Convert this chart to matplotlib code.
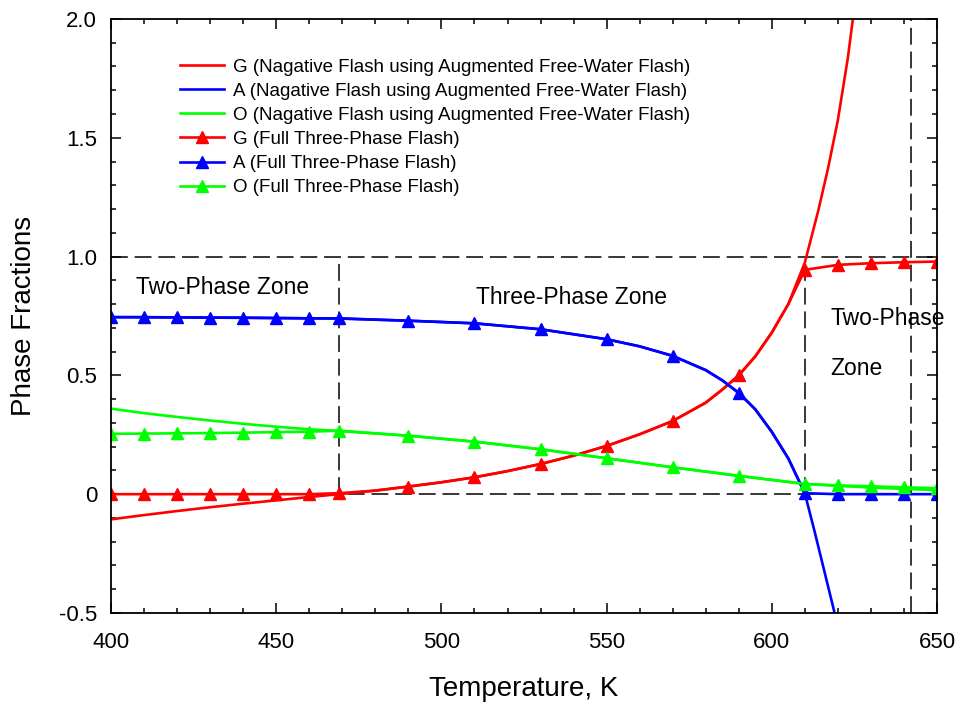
import numpy as np
import matplotlib
matplotlib.use("Agg")
import matplotlib.pyplot as plt
from matplotlib.ticker import MultipleLocator, FuncFormatter

plt.rcParams['font.family'] = ['Liberation Sans', 'DejaVu Sans']

# negative flash using augmented free-water flash (T in K)
t_neg_g = [400, 410, 420, 430, 440, 450, 460, 469, 480, 490, 500, 510, 520, 530, 540,
           550, 560, 570, 580, 585, 590, 595, 600, 605, 610, 614, 617, 620, 623, 625]
g_neg = [-0.106, -0.088, -0.071, -0.055, -0.040, -0.026, -0.012, 0.000, 0.015, 0.032,
         0.050, 0.071, 0.097, 0.127, 0.162, 0.203, 0.252, 0.308, 0.385, 0.440,
         0.500, 0.580, 0.680, 0.800, 0.975, 1.190, 1.370, 1.575, 1.835, 2.050]

t_neg_a = [400, 420, 440, 460, 469, 490, 510, 530, 550, 560, 570, 580, 585, 590, 595,
           600, 605, 610, 613, 616, 619, 621]
a_neg = [0.745, 0.744, 0.743, 0.740, 0.739, 0.730, 0.719, 0.694, 0.652, 0.622, 0.582,
         0.522, 0.479, 0.427, 0.357, 0.262, 0.150, 0.003, -0.160, -0.330, -0.500, -0.620]

t_neg_o = [400, 410, 420, 430, 440, 450, 460, 469, 490, 510, 530, 550, 570, 590, 610,
           620, 630, 640, 650]
o_neg = [0.360, 0.341, 0.325, 0.310, 0.296, 0.284, 0.273, 0.266, 0.246, 0.221, 0.189,
         0.151, 0.113, 0.077, 0.043, 0.035, 0.028, 0.022, 0.017]

# full three-phase flash
t_full = [400, 410, 420, 430, 440, 450, 460, 469, 490, 510, 530, 550, 570, 590, 610,
          620, 630, 640, 650]
g_full = [0, 0, 0, 0, 0, 0, 0, 0.004, 0.032, 0.071, 0.127, 0.203, 0.308, 0.500, 0.944,
          0.965, 0.972, 0.976, 0.979]
a_full = [0.745, 0.745, 0.744, 0.743, 0.742, 0.741, 0.740, 0.740, 0.730, 0.719, 0.694,
          0.652, 0.582, 0.425, 0.004, 0.0, 0.0, 0.0, 0.0]
o_full = [0.254, 0.255, 0.256, 0.257, 0.259, 0.261, 0.263, 0.267, 0.246, 0.221, 0.189,
          0.151, 0.113, 0.077, 0.043, 0.037, 0.033, 0.029, 0.025]

# phase boundaries
t_lower = 469
t_upper = 610
t_crit = 642


def full_curve(t_f, v_f, t_n, v_n):
    # inside the three-phase zone both methods agree, so the smooth
    # negative-flash points fill the line between the markers
    t_f, v_f = np.asarray(t_f, float), np.asarray(v_f, float)
    t_n, v_n = np.asarray(t_n, float), np.asarray(v_n, float)
    keep = (t_n > t_lower) & (t_n < t_upper) & ~np.isin(t_n, t_f)
    t = np.concatenate([t_f, t_n[keep]])
    v = np.concatenate([v_f, v_n[keep]])
    order = np.argsort(t)
    t, v = t[order], v[order]
    return t, v, np.isin(t, t_f)


fig = plt.figure(figsize=(9.58, 7.04), dpi=100)
ax = fig.add_axes([0.1159, 0.1293, 0.8622, 0.8438])

lw = 1.9
ax.plot(t_neg_g, g_neg, color='red', lw=lw,
        label='G (Nagative Flash using Augmented Free-Water Flash)')
ax.plot(t_neg_a, a_neg, color='blue', lw=lw,
        label='A (Nagative Flash using Augmented Free-Water Flash)')
ax.plot(t_neg_o, o_neg, color='#00ff00', lw=lw,
        label='O (Nagative Flash using Augmented Free-Water Flash)')

for vals, neg_t, neg_v, color, name in [
        (g_full, t_neg_g, g_neg, 'red', 'G'),
        (a_full, t_neg_a, a_neg, 'blue', 'A'),
        (o_full, t_neg_o, o_neg, '#00ff00', 'O')]:
    t, v, marks = full_curve(t_full, vals, neg_t, neg_v)
    ax.plot(t, v, color=color, lw=lw, marker='^', markersize=9,
            markevery=list(marks), label=f'{name} (Full Three-Phase Flash)')

# zone boundaries
dash = dict(color='black', lw=1.1, linestyle=(0, (11, 4.5)), zorder=1)
ax.axhline(1.0, **dash)
ax.axhline(0.0, **dash)
ax.plot([t_lower, t_lower], [0, 1], **dash)
ax.plot([t_upper, t_upper], [0, 1], **dash)
ax.axvline(t_crit, **dash)

zone_fs = 16.5
ax.text(407.6, 0.843, 'Two-Phase Zone', fontsize=zone_fs, va='baseline')
ax.text(510.5, 0.80, 'Three-Phase Zone', fontsize=zone_fs, va='baseline')
ax.text(617.8, 0.712, 'Two-Phase', fontsize=zone_fs, va='baseline', clip_on=False)
ax.text(617.8, 0.50, 'Zone', fontsize=zone_fs, va='baseline')

ax.set_xlim(400, 650)
ax.set_ylim(-0.5, 2.0)
ax.xaxis.set_major_locator(MultipleLocator(50))
ax.xaxis.set_minor_locator(MultipleLocator(10))
ax.yaxis.set_major_locator(MultipleLocator(0.5))
ax.yaxis.set_minor_locator(MultipleLocator(0.1))
ax.yaxis.set_major_formatter(FuncFormatter(lambda v, p: '0' if abs(v) < 1e-9 else f'{v:.1f}'))

ax.tick_params(which='both', direction='in', top=True, right=True, width=1.1)
ax.tick_params(which='major', length=7, labelsize=16)
ax.tick_params(axis='x', which='major', pad=14)
ax.tick_params(axis='y', which='major', pad=10)
ax.tick_params(which='minor', length=3.3)
for s in ax.spines.values():
    s.set_linewidth(1.3)

ax.set_xlabel('Temperature, K', fontsize=20, labelpad=16)
ax.set_ylabel('Phase Fractions', fontsize=20, labelpad=16)

ax.legend(loc='upper left', bbox_to_anchor=(0.0835, 0.933), frameon=False,
          fontsize=13.5, handlelength=2.35, handletextpad=0.48,
          labelspacing=0.37, borderpad=0, borderaxespad=0)

fig.savefig('out.png', dpi=100)
